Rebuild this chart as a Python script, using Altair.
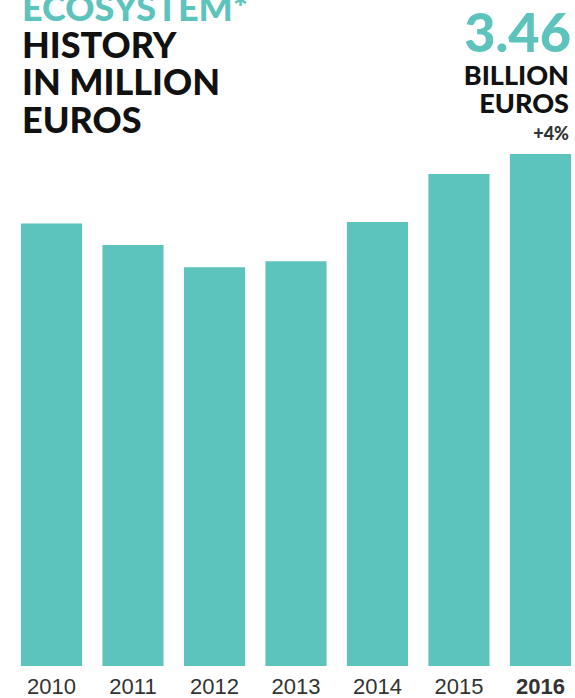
import altair as alt
import pandas as pd

years = ["2010", "2011", "2012", "2013", "2014", "2015", "2016"]
values = [2990, 2845, 2695, 2735, 3000, 3325, 3460]  # million euros

title_lines = ["ECOSYSTEM*", "HISTORY", "IN MILLION", "EUROS"]
big_number = "3.46"
unit_lines = ["BILLION", "EUROS"]
growth = "+4%"

TEAL = "#5cc4bc"
DARK = "#111111"
FONT = "Lato"

df = pd.DataFrame({"year": years, "value": values})

bars = alt.Chart(df).mark_bar(color=TEAL).encode(
    x=alt.X(
        "year:N",
        sort=years,
        scale=alt.Scale(paddingInner=0.25, paddingOuter=0.153, align=0.84),
        axis=alt.Axis(
            title=None,
            domain=False,
            ticks=False,
            labelAngle=0,
            labelFont="Liberation Sans",
            labelFontSize=22,
            labelColor="#333333",
            labelPadding=10,
            labelFontWeight={"condition": {"test": "datum.value == '2016'", "value": "bold"}, "value": "normal"},
        ),
    ),
    y=alt.Y("value:Q", scale=alt.Scale(domain=[0, 4500], nice=False), axis=None),
)

one = pd.DataFrame({"k": [0]})


def txt(text, x, y, size, color, align="left", weight=900, font=FONT):
    return alt.Chart(one).mark_text(
        text=text, align=align, baseline="alphabetic", fontSize=size,
        font=font, fontWeight=weight, color=color,
    ).encode(x=alt.value(x), y=alt.value(y))


layers = [bars]
ys = [21, 58, 95, 133]
for i, line in enumerate(title_lines):
    layers.append(txt(line, 22, ys[i], 36, TEAL if i == 0 else DARK))

layers.append(txt(big_number, 571, 52, 54, TEAL, align="right"))
layers.append(txt(unit_lines[0], 569, 85, 27, DARK, align="right"))
layers.append(txt(unit_lines[1], 569, 113, 27, DARK, align="right"))
layers.append(txt(growth, 569, 140, 18, "#333333", align="right"))

chart = alt.layer(*layers).properties(
    width=575, height=666,
    autosize=alt.AutoSizeParams(type="none"),
    padding={"left": 0, "right": 0, "top": 0, "bottom": 32},
).configure_view(stroke=None)

chart.save("out.html", embed_options={"renderer": "svg", "actions": False})
